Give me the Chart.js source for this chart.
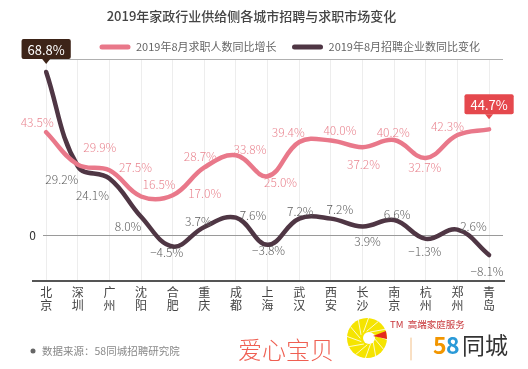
<!DOCTYPE html>
<html lang="zh-CN">
<head>
<meta charset="utf-8">
<title>2019年家政行业供给侧各城市招聘与求职市场变化</title>
<script src="https://cdn.jsdelivr.net/npm/chart.js@4/dist/chart.umd.min.js"></script>
<style>
  html, body { margin: 0; padding: 0; background: #ffffff; }
  #chart-wrap { width: 528px; height: 369px; }
</style>
</head>
<body>
<div id="chart-wrap"><canvas id="cityChart" width="528" height="369"></canvas></div>
<script>
// Chart data
const cities = ['北京', '深圳', '广州', '沈阳', '合肥', '重庆', '成都', '上海', '武汉', '西安', '长沙', '南京', '杭州', '郑州', '青岛'];
const seriesNames = ['2019年8月求职人数同比增长', '2019年8月招聘企业数同比变化'];
const jobSeekerGrowth = [43.5, 29.9, 27.5, 16.5, 17.0, 28.7, 33.8, 25.0, 39.4, 40.0, 37.2, 40.2, 32.7, 42.3, 44.7];
const employerChange = [68.8, 29.2, 24.1, 8.0, -4.5, 3.7, 7.6, -3.8, 7.2, 7.2, 3.9, 6.6, -1.3, 2.6, -8.1];
const yTickValues = [0, 74];

// Label offsets from each point (dx, dy in px)
const jobSeekerLabelPos = [[-9, -10], [22, -17], [26, -3], [18, -12], [32, -2], [-4, -11], [14, -6], [13, 6], [-11, -10], [9, -10], [1, 17], [-1, -8], [-1, 10], [-10, -9], [0, -25]];
const employerLabelPos = [[0, -23], [-16, 13], [-17, 17], [-13, 10], [-6, 6], [-6, -6], [17, -2], [1, 6], [1, -7], [9, -9], [5, 15], [3, -6], [-1, 13], [16, -3], [-2, 16]];

const FONT = '"Noto Sans CJK SC", "Noto Sans", sans-serif';

// x = city index, y = value
function toPoints(values) {
  return values.map(function(v, i) { return { x: i, y: v }; });
}

document.addEventListener('DOMContentLoaded', function() {
  const ctx = document.getElementById('cityChart').getContext('2d');

  // Value labels, with a callout box on each series' highest point
  const valueLabels = {
    id: 'valueLabels',
    afterDatasetsDraw(chart) {
      const c = chart.ctx;
      c.save();
      c.font = '300 12px ' + FONT;
      c.textAlign = 'center';
      c.textBaseline = 'middle';
      chart.data.datasets.forEach(function(ds, di) {
        const meta = chart.getDatasetMeta(di);
        const values = ds.data.map(function(p) { return p.y; });
        const maxIdx = values.indexOf(Math.max.apply(null, values));
        meta.data.forEach(function(pt, i) {
          const off = ds.labelPos[i];
          const text = values[i].toFixed(1).replace('-', '\u2212') + '%';
          const x = pt.x + off[0];
          const y = pt.y + off[1];
          if (i === maxIdx) {
            c.font = '13px ' + FONT;
            const w = c.measureText(text).width + 12;
            const h = 20;
            c.fillStyle = ds.boxColor;
            c.beginPath();
            c.roundRect(x - w / 2, y - h / 2, w, h, 2);
            c.fill();
            c.beginPath();
            c.moveTo(pt.x - 4, y + h / 2);
            c.lineTo(pt.x + 4, y + h / 2);
            c.lineTo(pt.x, y + h / 2 + 5);
            c.closePath();
            c.fill();
            c.fillStyle = '#ffffff';
            c.fillText(text, x, y + 1);
            c.font = '300 12px ' + FONT;
          } else {
            c.fillStyle = ds.labelColor;
            c.fillText(text, x, y);
          }
        });
      });
      c.restore();
    }
  };

  // Legend, baseline and footer
  const extras = {
    id: 'extras',
    afterDraw(chart) {
      const c = chart.ctx;
      const area = chart.chartArea;
      c.save();

      // bottom axis line
      c.strokeStyle = '#555555';
      c.lineWidth = 2;
      c.beginPath();
      c.moveTo(area.left - 11, area.bottom);
      c.lineTo(area.right + 2, area.bottom);
      c.stroke();

      // legend
      let lx = 100;
      const ly = 47;
      c.font = '11px ' + FONT;
      c.textBaseline = 'middle';
      c.textAlign = 'left';
      chart.data.datasets.forEach(function(ds) {
        c.strokeStyle = ds.borderColor;
        c.lineWidth = 5;
        c.lineCap = 'round';
        c.beginPath();
        c.moveTo(lx + 2, ly);
        c.lineTo(lx + 28, ly);
        c.stroke();
        c.fillStyle = '#666666';
        c.fillText(ds.label, lx + 36, ly);
        lx += 36 + c.measureText(ds.label).width + 16;
      });

      // source note
      c.fillStyle = '#666666';
      c.beginPath();
      c.arc(33, 351, 2.5, 0, Math.PI * 2);
      c.fill();
      c.fillStyle = '#888888';
      c.font = '10.5px ' + FONT;
      c.fillText('数据来源：58同城招聘研究院', 42, 351);

      // 爱心宝贝 logo
      c.fillStyle = '#ef5f52';
      c.font = '300 24px ' + FONT;
      c.fillText('爱心宝贝', 238, 350);

      const cx = 367, cy = 338, r = 20;
      c.fillStyle = '#f5e400';
      c.beginPath();
      c.arc(cx, cy, r, 0, Math.PI * 2);
      c.fill();
      c.strokeStyle = '#ffffff';
      c.lineWidth = 0.8;
      for (let k = 0; k < 12; k++) {
        const a = k * Math.PI * 2 / 12;
        c.beginPath();
        c.moveTo(cx + 7 * Math.cos(a), cy + 7 * Math.sin(a));
        c.lineTo(cx + r * Math.cos(a + 0.6), cy + r * Math.sin(a + 0.6));
        c.stroke();
      }
      c.fillStyle = '#ffffff';
      c.beginPath();
      c.arc(cx + 2, cy, 6, 0, Math.PI * 2);
      c.fill();
      c.fillStyle = '#e52a1e';
      c.beginPath();
      c.moveTo(cx + 6, cy - 2);
      c.lineTo(cx + r - 1, cy - 7);
      c.lineTo(cx + r, cy + 1);
      c.closePath();
      c.fill();

      c.fillStyle = '#c8363a';
      c.font = '9.5px ' + FONT;
      c.fillText('TM  高端家庭服务', 390, 324);

      c.strokeStyle = '#f3c088';
      c.lineWidth = 1;
      c.beginPath();
      c.moveTo(411, 338);
      c.lineTo(411, 360);
      c.stroke();

      // 58同城 logo
      c.font = 'bold 23px ' + FONT;
      c.fillStyle = '#f29600';
      c.fillText('5', 433, 345);
      c.fillStyle = '#2a9ad8';
      c.fillText('8', 446, 345);
      c.font = '23px ' + FONT;
      c.fillStyle = '#333333';
      c.fillText('同城', 462, 345);

      c.restore();
    }
  };

  new Chart(ctx, {
    type: 'line',
    data: {
      datasets: [{
        label: seriesNames[0],
        data: toPoints(jobSeekerGrowth),
        borderColor: '#e9788a',
        labelColor: '#e98590',
        boxColor: '#e5484d',
        labelPos: jobSeekerLabelPos,
        borderWidth: 4.5,
        borderCapStyle: 'round',
        pointRadius: 0,
        tension: 0.4
      }, {
        label: seriesNames[1],
        data: toPoints(employerChange),
        borderColor: '#4f3644',
        labelColor: '#5e5e5e',
        boxColor: '#3d2418',
        labelPos: employerLabelPos,
        borderWidth: 4.5,
        borderCapStyle: 'round',
        pointRadius: 0,
        tension: 0.4
      }]
    },
    options: {
      responsive: false,
      animation: false,
      layout: {
        padding: { top: 0, right: 25, bottom: 48, left: 0 }
      },
      plugins: {
        legend: { display: false },
        tooltip: { enabled: false },
        title: {
          display: true,
          text: '2019年家政行业供给侧各城市招聘与求职市场变化',
          color: '#444444',
          font: { family: FONT, size: 13, weight: '500' },
          padding: { top: 8, bottom: 36 }
        }
      },
      scales: {
        x: {
          type: 'linear',
          min: -0.1,
          max: 14.44,
          afterBuildTicks: function(scale) {
            scale.ticks = cities.map(function(c, i) { return { value: i }; });
          },
          afterFit: function(scale) { scale.height = 40; },
          border: { display: false },
          grid: { color: '#ededed', drawTicks: false },
          ticks: {
            autoSkip: false,
            maxRotation: 0,
            padding: 5,
            color: '#444444',
            font: { family: FONT, size: 12, lineHeight: 1.08 },
            callback: function(value) { return cities[value].split(''); }
          }
        },
        y: {
          min: -19,
          max: 74,
          afterBuildTicks: function(scale) {
            scale.ticks = yTickValues.map(function(v) { return { value: v }; });
          },
          afterFit: function(scale) { scale.width = 43; },
          border: { display: false },
          grid: {
            drawTicks: false,
            color: function(c) { return c.tick && c.tick.value === 0 ? '#9a9a9a' : '#b0b0b0'; }
          },
          ticks: {
            padding: 7,
            color: '#333333',
            font: { family: FONT, size: 12 },
            callback: function(value) { return value === 0 ? '0' : ''; }
          }
        }
      }
    },
    plugins: [valueLabels, extras]
  });
});
</script>
</body>
</html>
